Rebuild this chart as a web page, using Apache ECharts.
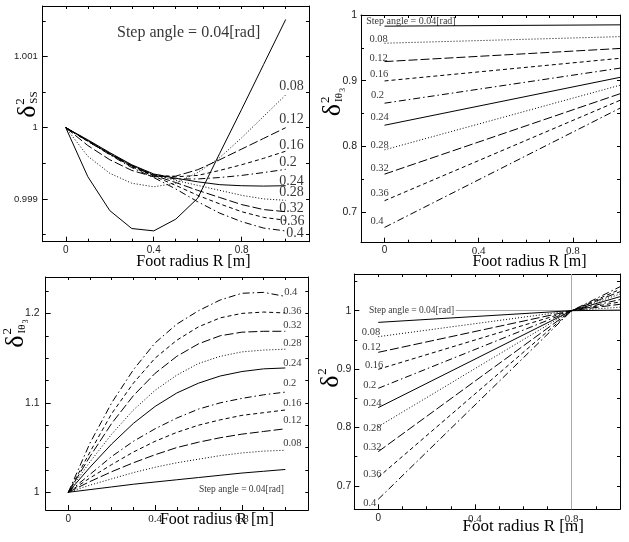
<!DOCTYPE html>
<html><head><meta charset="utf-8">
<script src="https://cdn.jsdelivr.net/npm/echarts@6/dist/echarts.min.js"></script>
<style>html,body{margin:0;padding:0;background:#fff}#c{width:629px;height:542px}</style>
</head><body><div id="c"></div>
<script>
// ---------- categories / labels ----------
const stepLabels = ['Step angle = 0.04[rad]','0.08','0.12','0.16','0.2','0.24','0.28','0.32','0.36','0.4'];
const xTitle = 'Foot radius R [m]';

// ---------- Panel 1 : delta^2_SS ----------
const p1X = [0,0.1,0.2,0.3,0.4,0.5,0.6,0.7,0.8,0.9,1.0];
const ss004 = [1.0,0.999313,0.998836,0.998584,0.998551,0.998715,0.99901,0.99964,1.00026,1.00089,1.00152];
const ss008 = [1.0,0.9996,0.99936,0.99922,0.99917,0.99922,0.99937,0.99958,0.99986,1.00016,1.00046];
const ss012 = [1.0,0.99975,0.99955,0.9994,0.99931,0.99932,0.99941,0.99955,0.9997,0.99985,1.0];
const ss016 = [1.0,0.99981,0.99963,0.99947,0.99934,0.99931,0.99933,0.9994,0.99948,0.99957,0.99967];
const ss020 = [1.0,0.99982,0.99964,0.99947,0.99933,0.99928,0.99928,0.9993,0.99933,0.99937,0.999415];
const ss024 = [1.0,0.99983,0.99965,0.99948,0.99935,0.99929,0.99924,0.9992,0.999185,0.99918,0.999185];
const ss028 = [1.0,0.99982,0.99964,0.99947,0.99934,0.99926,0.99919,0.99912,0.99905,0.999,0.99898];
const ss032 = [1.0,0.99982,0.99963,0.99946,0.99933,0.99923,0.99912,0.99902,0.99892,0.99885,0.99882];
const ss036 = [1.0,0.99981,0.99963,0.99945,0.99932,0.99919,0.99905,0.99893,0.99882,0.99874,0.9987];
const ss040 = [1.0,0.99981,0.99962,0.99944,0.9993,0.99914,0.99896,0.9988,0.99868,0.99859,0.99855];
const p1NoteX = [0.233,0.971,0.971,0.971,0.971,0.971,0.971,0.971,0.974,1.003];
const p1NoteY = [1.00133,1.000586,1.000122,0.999757,0.999518,0.999242,0.999087,0.998868,0.99869,0.998517];

// ---------- Panel 2 : delta^2_I theta3 (top right) ----------
const p2X = [0,1.0];
const th004 = [0.983,0.985];
const th008 = [0.957,0.967];
const th012 = [0.929,0.949];
const th016 = [0.8995,0.934];
const th020 = [0.8656,0.919];
const th024 = [0.832,0.905];
const th028 = [0.7945,0.893];
const th032 = [0.7575,0.880];
const th036 = [0.717,0.870];
const th040 = [0.6763,0.858];
const p2NoteX = [-0.078,-0.064,-0.064,-0.062,-0.058,-0.06,-0.06,-0.06,-0.06,-0.06];
const p2NoteY = [0.9898,0.963,0.934,0.909,0.877,0.844,0.802,0.767,0.729,0.685];

// ---------- Panel 3 : delta^2_I theta3 (bottom left) ----------
const p3X = [0,0.1,0.2,0.3,0.4,0.5,0.6,0.7,0.8,0.9,1.0];
const it004 = [1,1.003,1.006,1.009,1.0115,1.014,1.0165,1.019,1.0215,1.0235,1.0255];
const it008 = [1,1.008,1.015,1.022,1.028,1.033,1.037,1.041,1.044,1.046,1.047];
const it012 = [1,1.012,1.023,1.033,1.042,1.050,1.056,1.061,1.065,1.068,1.071];
const it016 = [1,1.016,1.031,1.045,1.057,1.067,1.075,1.081,1.086,1.089,1.092];
const it020 = [1,1.020,1.040,1.057,1.071,1.083,1.093,1.100,1.105,1.109,1.112];
const it024 = [1,1.028,1.054,1.077,1.096,1.111,1.122,1.130,1.135,1.138,1.139];
const it028 = [1,1.034,1.065,1.092,1.114,1.131,1.144,1.152,1.157,1.159,1.160];
const it032 = [1,1.040,1.077,1.108,1.133,1.152,1.166,1.175,1.179,1.180,1.180];
const it036 = [1,1.045,1.088,1.122,1.150,1.170,1.185,1.195,1.200,1.2015,1.2005];
const it040 = [1,1.055,1.100,1.137,1.167,1.188,1.203,1.215,1.2225,1.2235,1.219];
const p3NoteX = [0.602,0.99,0.99,0.99,0.99,0.99,0.99,0.99,0.99,0.995];
const p3NoteY = [1.0026,1.0549,1.0802,1.0996,1.1220,1.1444,1.1668,1.1873,1.2022,1.2239];

// ---------- Panel 4 : delta^2 ----------
const p4X = [0,0.8,1.0];
const d004 = [0.980,1.0,1.001];
const d008 = [0.9555,1.0,1.006];
const d012 = [0.9287,1.0,1.011];
const d016 = [0.8996,1.0,1.015];
const d020 = [0.8671,1.0,1.019];
const d024 = [0.834,1.0,1.024];
const d028 = [0.8015,1.0,1.0285];
const d032 = [0.7587,1.0,1.0325];
const d036 = [0.7148,1.0,1.0365];
const d040 = [0.6771,1.0,1.041];
const p4NoteX = [-0.038,-0.068,-0.066,-0.055,-0.062,-0.062,-0.062,-0.062,-0.062,-0.062];
const p4NoteY = [1.0,0.963,0.937,0.907,0.873,0.841,0.799,0.767,0.720,0.670];
const p4RefX = 0.8, p4RefY = 1.0, p4RefFrom = 0.32;

// ---------- styles ----------
const SERIF = '"Liberation Serif","Times New Roman",serif';
const SANS = '"Liberation Sans",Arial,sans-serif';
const dashes = ['solid',[1,2],[9,3],[4,3],[7,3,1.5,3],'solid',[1,2],[9,3],[4,3],[7,3,1.5,3]];

const panels = [
  {grid:{left:42.7,top:6,width:266.3,height:235.7}, x:[-0.105,1.106], y:[0.998399,1.001709],
   xMaj:[0,0.4,0.8], xMin:[0.1,0.2,0.3,0.5,0.6,0.7,0.9,1.0],
   yMaj:[0.999,1,1.001], yMin:[0.9985,0.9995,1.0005,1.0015],
   ySize:9.5, yMargin:5, xMargin:4, nameGap:11, namePad:35, nameSize:16, serifX:false,
   xs:p1X, ys:[ss004,ss008,ss012,ss016,ss020,ss024,ss028,ss032,ss036,ss040],
   nx:p1NoteX, ny:p1NoteY, stepSize:16, numSize:14},
  {grid:{left:361,top:15,width:259,height:227.7}, x:[-0.1,1.0], y:[0.653,1.0],
   xMaj:[0,0.4,0.8], xMin:[0.1,0.2,0.3,0.5,0.6,0.7,0.9],
   yMaj:[0.7,0.8,0.9,1], yMin:[0.75,0.85,0.95],
   ySize:10.5, yMargin:4, xMargin:3, nameGap:10, namePad:78, nameSize:16, serifX:true,
   xs:p2X, ys:[th004,th008,th012,th016,th020,th024,th028,th032,th036,th040],
   nx:p2NoteX, ny:p2NoteY, stepSize:10, numSize:10.5},
  {grid:{left:45.7,top:277,width:262.6,height:233}, x:[-0.104,1.106], y:[0.9802,1.2407],
   xMaj:[0,0.4,0.8], xMin:[0.1,0.2,0.3,0.5,0.6,0.7,0.9,1.0],
   yMaj:[1,1.1,1.2], yMin:[1.025,1.05,1.075,1.125,1.15,1.175,1.225],
   ySize:10.5, yMargin:6, xMargin:4, nameGap:0.5, namePad:80, nameSize:16, serifX:true,
   xs:p3X, ys:[it004,it008,it012,it016,it020,it024,it028,it032,it036,it040],
   nx:p3NoteX, ny:p3NoteY, stepSize:9.5, numSize:10.5},
  {grid:{left:354.3,top:274,width:265.7,height:235.3}, x:[-0.099,1.0], y:[0.66,1.0628],
   xMaj:[0,0.4,0.8], xMin:[0.1,0.2,0.3,0.5,0.6,0.7,0.9],
   yMaj:[0.7,0.8,0.9,1], yMin:[0.75,0.85,0.95,1.05],
   ySize:10.5, yMargin:3, xMargin:4, nameGap:8.4, namePad:72, nameSize:17, serifX:true,
   xs:p4X, ys:[d004,d008,d012,d016,d020,d024,d028,d032,d036,d040],
   nx:p4NoteX, ny:p4NoteY, stepSize:9.5, numSize:10.5}
];

const grids = [], xAxes = [], yAxes = [], series = [];
const blk = {color:'#000', width:1};
panels.forEach((P, i) => {
  grids.push(Object.assign({containLabel:false}, P.grid));
  const xLab = {show:true, customValues:P.xMaj, margin:P.xMargin, fontFamily:SANS, fontSize:10, color:'#222'};
  if (P.serifX) {
    xLab.formatter = v => v === 0 ? '{s|0}' : '{r|' + v + '}';
    xLab.rich = {s:{fontFamily:SANS, fontSize:10, color:'#222'}, r:{fontFamily:SERIF, fontSize:11, color:'#222'}};
  }
  xAxes.push(
    {gridIndex:i, type:'value', position:'bottom', min:P.x[0], max:P.x[1],
     axisLine:{show:true, onZero:false, lineStyle:blk},
     axisTick:{show:true, inside:true, length:5, customValues:P.xMaj, lineStyle:blk},
     axisLabel:xLab,
     splitLine:{show:false},
     name:xTitle, nameLocation:'middle', nameGap:P.nameGap, nameMoveOverlap:false,
     nameTextStyle:{fontFamily:SERIF, fontSize:P.nameSize, color:'#000', lineHeight:18, padding:[0,0,0,P.namePad]}},
    {gridIndex:i, type:'value', position:'bottom', min:P.x[0], max:P.x[1],
     axisLine:{show:false, onZero:false}, axisTick:{show:true, inside:true, length:3, customValues:P.xMin, lineStyle:blk},
     axisLabel:{show:false}, splitLine:{show:false}},
    {gridIndex:i, type:'value', position:'top', min:P.x[0], max:P.x[1],
     axisLine:{show:true, onZero:false, lineStyle:blk},
     axisTick:{show:true, inside:true, length:3, customValues:P.xMaj.concat(P.xMin), lineStyle:blk},
     axisLabel:{show:false}, splitLine:{show:false}}
  );
  yAxes.push(
    {gridIndex:i, type:'value', position:'left', min:P.y[0], max:P.y[1],
     axisLine:{show:true, onZero:false, lineStyle:blk},
     axisTick:{show:true, inside:true, length:5, customValues:P.yMaj, lineStyle:blk},
     axisLabel:{show:true, customValues:P.yMaj, margin:P.yMargin, fontFamily:SANS, fontSize:P.ySize, color:'#222'},
     splitLine:{show:false}},
    {gridIndex:i, type:'value', position:'left', min:P.y[0], max:P.y[1],
     axisLine:{show:false, onZero:false}, axisTick:{show:true, inside:true, length:3, customValues:P.yMin, lineStyle:blk},
     axisLabel:{show:false}, splitLine:{show:false}},
    {gridIndex:i, type:'value', position:'right', min:P.y[0], max:P.y[1],
     axisLine:{show:true, onZero:false, lineStyle:blk},
     axisTick:{show:true, inside:true, length:3, customValues:P.yMaj.concat(P.yMin), lineStyle:blk},
     axisLabel:{show:false}, splitLine:{show:false}}
  );
  P.ys.forEach((arr, k) => {
    const s = {type:'line', name:stepLabels[k], xAxisIndex:3*i, yAxisIndex:3*i,
      data: P.xs.map((x, j) => [x, arr[j]]), showSymbol:false, symbol:'none', z:3,
      lineStyle:{color:'#000', width:1, type:dashes[k]}, silent:true};
    if (i === 3 && k === 0) {
      s.markLine = {silent:true, symbol:'none', z:1, label:{show:false},
        lineStyle:{color:'#aaa', width:1, type:'solid'},
        data:[{xAxis:p4RefX}, [{coord:[p4RefFrom,p4RefY]},{coord:[P.x[1],p4RefY]}]]};
    }
    series.push(s);
  });
  series.push({type:'scatter', xAxisIndex:3*i, yAxisIndex:3*i, symbolSize:0, silent:true, z:5,
    data: P.nx.map((x, k) => ({value:[x, P.ny[k]], txt:stepLabels[k],
      label:{fontSize: k === 0 ? P.stepSize : P.numSize}})),
    label:{show:true, position:'right', distance:0, fontFamily:SERIF, color:'#000',
      formatter: p => p.data.txt}});
});

function yTitle(cx, cy, sub, sub3) {
  const ch = [
    {type:'text', x:0, y:0, style:{text:'δ', fontSize:26, fontFamily:SERIF, fill:'#000', align:'center', verticalAlign:'middle'}},
    {type:'text', x:7, y:-8, style:{text:'2', fontSize:13, fontFamily:SERIF, fill:'#000', align:'left', verticalAlign:'middle'}},
    {type:'text', x:8, y:6, style:{text:sub, fontSize:11, fontFamily:SERIF, fill:'#000', align:'left', verticalAlign:'middle'}}
  ];
  if (sub3) ch.push({type:'text', x:18, y:10, style:{text:sub3, fontSize:8, fontFamily:SERIF, fill:'#000', align:'left', verticalAlign:'middle'}});
  return {type:'group', x:cx, y:cy, rotation:Math.PI/2, children:ch};
}

const chart = echarts.init(document.getElementById('c'), null, {renderer:'canvas'});
chart.setOption({
  animation:false,
  backgroundColor:'#fff',
  grid:grids, xAxis:xAxes, yAxis:yAxes, series:series,
  graphic:[
    yTitle(28.3, 111.7, 'SS'),
    yTitle(333.3, 110, 'Iθ', '3'),
    yTitle(16, 341.5, 'Iθ', '3'),
    yTitle(330.7, 381.7, '')
  ]
});
</script></body></html>
